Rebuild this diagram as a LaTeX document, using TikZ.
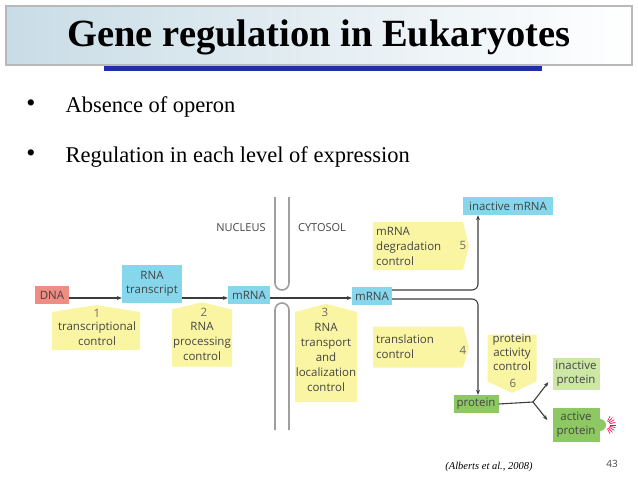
\documentclass[tikz,border=0pt]{standalone}
\usepackage{fontspec}
\setmainfont{Liberation Serif}
\newfontfamily\diafont{Open Sans}
\usepackage{xcolor}
\definecolor{box-cyan}{HTML}{86D6EC}
\definecolor{box-yellow}{HTML}{FAF5A2}
\definecolor{box-green}{HTML}{8DC863}
\definecolor{box-lgreen}{HTML}{CCE8A4}
\definecolor{box-red}{HTML}{EF8C84}
\definecolor{flow-gray}{HTML}{3C3C3C}
\definecolor{text-gray}{HTML}{444444}
\definecolor{num-gray}{HTML}{6A6A6A}
\definecolor{banner-blue}{HTML}{C9DCE6}
\definecolor{bar-blue}{HTML}{1F2FA8}
\usetikzlibrary{
  shapes.symbols,
  arrows.meta,
  calc
}

\begin{document}
\begin{tikzpicture}[
    x=1pt, y=-1pt,
    mol/.style={
      rectangle,
      inner sep=2pt,
      minimum height=18pt,
      font=\diafont\fontsize{11.5}{14}\selectfont,
      text=text-gray,
      align=center
    },
    ctrl/.style={
      shape=signal,
      fill=box-yellow,
      signal from=nowhere,
      inner sep=0pt
    },
    lbl/.style={
      font=\diafont\fontsize{11.5}{15}\selectfont,
      text=text-gray,
      inner sep=0pt
    },
    num/.style={
      font=\diafont\fontsize{11.5}{14}\selectfont,
      text=num-gray,
      inner sep=0pt
    },
    region/.style={
      font=\diafont\fontsize{11}{13}\selectfont,
      text=text-gray
    },
    flow/.style={
      -{Stealth[length=5pt,width=4pt]},
      line width=1.1pt,
      color=flow-gray
    },
    membrane/.style={
      line width=1.6pt,
      color=gray!75,
      rounded corners=7pt
    }
  ]
    \useasboundingbox (0,0) rectangle (638,479);

    % title banner
    \shade[left color=banner-blue, right color=white] (6,6) rectangle (632,65);
    \draw[gray!55, line width=1.5pt] (6,6) rectangle (632,65);
    \fill[bar-blue] (104,66) rectangle (542,71);
    \node[font=\bfseries\fontsize{38.5}{44}\selectfont] (title) at (319,37) {Gene regulation in Eukaryotes};

    % bullets
    \node[font=\fontsize{26}{28}\selectfont] (b1) at (31,106) {\textbullet};
    \node[font=\fontsize{26}{28}\selectfont] (b2) at (31,156) {\textbullet};
    \node[font=\fontsize{22.5}{26}\selectfont, anchor=west] (t1) at (62,107) {Absence of operon};
    \node[font=\fontsize{22.5}{26}\selectfont, anchor=west] (t2) at (62,157) {Regulation in each level of expression};

    % nuclear envelope
    \draw[membrane] (275,197) -- (275,290) -- (289,290) -- (289,197);
    \draw[membrane] (275,430) -- (275,303) -- (289,303) -- (289,430);
    \node[region] (nuc) at (241,228) {NUCLEUS};
    \node[region] (cyt) at (322,228) {CYTOSOL};

    % control callouts
    \node[ctrl, signal to=north, signal pointer angle=162, minimum width=88pt, minimum height=38pt] (c1) at (96,331) {};
    \node[ctrl, signal to=north, signal pointer angle=153, minimum width=60pt, minimum height=57pt] (c2) at (202,338) {};
    \node[ctrl, signal to=north, signal pointer angle=150, minimum width=62pt, minimum height=90pt] (c3) at (326,357) {};
    \node[ctrl, signal to=east, signal pointer angle=152, minimum width=96pt, minimum height=48pt] (c5) at (418,246) {};
    \node[ctrl, signal to=east, signal pointer angle=147, minimum width=96pt, minimum height=41pt] (c4) at (418,347) {};
    \node[ctrl, signal to=south, signal pointer angle=130, minimum width=49pt, minimum height=47pt] (c6) at (512,358) {};

    \node[num] (n1) at (97,313) {1};
    \node[lbl, align=center] (l1) at (97,334) {transcriptional\\control};
    \node[num] (n2) at (204,312) {2};
    \node[lbl, align=center] (l2) at (202,341) {RNA\\processing\\control};
    \node[num] (n3) at (325,312) {3};
    \node[lbl, align=center] (l3) at (326,357) {RNA\\transport\\and\\localization\\control};
    \node[lbl, align=left, anchor=west] (l5) at (376,246) {mRNA\\degradation\\control};
    \node[num] (n5) at (463,245) {5};
    \node[lbl, align=left, anchor=west] (l4) at (376,347) {translation\\control};
    \node[num] (n4) at (463,350) {4};
    \node[lbl, align=center, font=\diafont\fontsize{11.5}{14}\selectfont] (l6) at (512,352) {protein\\activity\\control};
    \node[num] (n6) at (513,383) {6};

    % molecules
    \node[mol, fill=box-red, minimum width=34pt] (dna) at (52,295) {DNA};
    \node[mol, fill=box-cyan, minimum width=60pt, minimum height=38pt] (rnat) at (152,284) {RNA\\transcript};
    \node[mol, fill=box-cyan, minimum width=42pt] (mrna1) at (249,295) {mRNA};
    \node[mol, fill=box-cyan, minimum width=40pt] (mrna2) at (372,296) {mRNA};
    \node[mol, fill=box-cyan, minimum width=90pt] (imrna) at (508,206) {inactive mRNA};
    \node[mol, fill=box-green, minimum width=45pt] (prot) at (476,404) {protein};
    \node[mol, fill=box-lgreen, minimum width=47pt, minimum height=32pt] (iprot) at (576,374) {inactive\\protein};
    \fill[box-green] (600,425) circle (6pt);
    \node[mol, fill=box-green, minimum width=47pt, minimum height=34pt] (aprot) at (576,425) {active\\protein};
    \foreach \a in {-64,-48,...,64}
      \draw[red!70!magenta, line width=0.6pt] ($(aprot.east)+(6,0)+(\a:4)$) -- ($(aprot.east)+(6,0)+(\a:10)$);

    % connectors
    \coordinate (axis) at (0,298);
    \coordinate (bend) at (478,0);
    \coordinate (fork) at (533,402);
    \draw[flow] (dna.east |- axis) -- (rnat.west |- axis);
    \draw[flow] (rnat.east |- axis) -- (mrna1.west |- axis);
    \draw[flow] (mrna1.east |- axis) -- (mrna2.west |- axis);
    \draw[flow, rounded corners=6pt] ($(mrna2.east)+(0,-6)$) -| (imrna.south -| bend);
    \draw[flow, rounded corners=6pt] ($(mrna2.east)+(0,3)$) -| (prot.north -| bend);
    \draw[flow, -] (prot.east) -- (fork);
    \draw[flow] (fork) -- ($(iprot.south west)+(-4,-8)$);
    \draw[flow] (fork) -- ($(aprot.west)+(-5,-5)$);

    % footer
    \node[font=\itshape\fontsize{10.5}{12}\selectfont] (ref) at (489,467) {(Alberts et al., 2008)};
    \node[font=\diafont\fontsize{10}{12}\selectfont, text=text-gray] (page) at (612,464) {43};
  \end{tikzpicture}
\end{document}
